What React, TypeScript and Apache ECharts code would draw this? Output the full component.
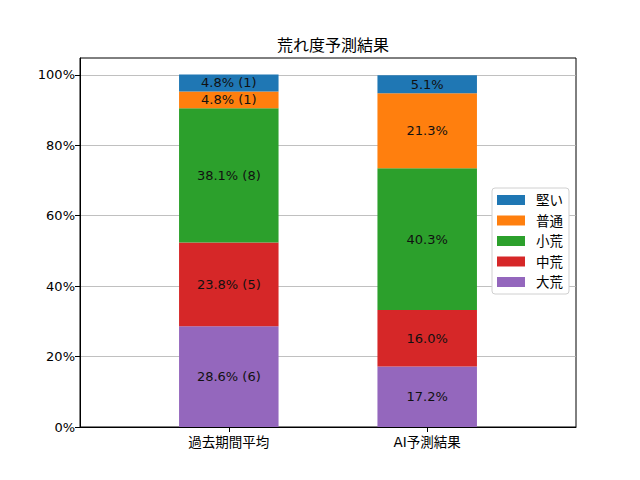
import React, { useEffect, useRef } from "react";
import * as echarts from "echarts";

const categories = ["過去期間平均", "AI予測結果"];
const seriesNames = ["大荒", "中荒", "小荒", "普通", "堅い"];
const colors = ["#9467bd", "#d62728", "#2ca02c", "#ff7f0e", "#1f77b4"];
const pastValues = [28.6, 23.8, 38.1, 4.8, 4.8];
const pastCounts = [6, 5, 8, 1, 1];
const aiValues = [17.2, 16.0, 40.3, 21.3, 5.1];
const yTicks = [0, 20, 40, 60, 80, 100];
const legendOrder = ["堅い", "普通", "小荒", "中荒", "大荒"];

const FONT = "'DejaVu Sans', 'Noto Sans CJK JP', sans-serif";

// padded category slots so bars sit where matplotlib placed them (xlim -0.75..1.75)
const slots = ["", categories[0], "", categories[1], ""];

export default function App() {
  const ref = useRef<HTMLDivElement>(null);
  useEffect(() => {
    document.body.style.margin = "0";
    if (!ref.current) return;
    const chart = echarts.init(ref.current, undefined, { renderer: "svg" });
    const series = seriesNames.map((name, i) => ({
      name,
      type: "bar",
      stack: "total",
      barWidth: 99.5,
      itemStyle: { color: colors[i] },
      data: [null, pastValues[i], null, aiValues[i], null],
      label: {
        show: true,
        position: "inside",
        color: "#111",
        fontSize: 13,
        lineHeight: 14,
        fontFamily: FONT,
        formatter: (p: any) =>
          p.dataIndex === 1
            ? `${pastValues[i].toFixed(1)}% (${pastCounts[i]})`
            : `${aiValues[i].toFixed(1)}%`,
      },
    }));
    chart.setOption({
      animation: false,
      textStyle: { fontFamily: FONT },
      title: {
        text: "荒れ度予測結果",
        left: 328,
        top: 32,
        textAlign: "center",
        textStyle: { fontSize: 16, fontWeight: "normal", color: "#000", fontFamily: FONT },
      },
      grid: {
        left: 80,
        top: 58,
        width: 496,
        height: 369,
        show: true,
        borderColor: "#000",
        borderWidth: 1,
        backgroundColor: "transparent",
      },
      legend: {
        data: legendOrder,
        orient: "vertical",
        left: 492,
        top: 188,
        itemWidth: 28,
        itemHeight: 10,
        itemGap: 6.5,
        icon: "rect",
        padding: [5, 6, 5, 5],
        borderColor: "#d0d0d0",
        borderWidth: 1,
        borderRadius: 3,
        backgroundColor: "#fff",
        textStyle: {
          fontSize: 13.5,
          lineHeight: 14,
          color: "#000",
          fontFamily: FONT,
          padding: [0, 0, 0, 6],
        },
      },
      xAxis: {
        type: "category",
        data: slots,
        boundaryGap: true,
        axisLine: { show: true, lineStyle: { color: "#000", width: 1 } },
        axisTick: {
          show: true,
          alignWithLabel: true,
          interval: (_i: number, v: string) => v !== "",
          length: 5,
          lineStyle: { color: "#000" },
        },
        axisLabel: {
          interval: (_i: number, v: string) => v !== "",
          margin: 8,
          fontSize: 13.5,
          color: "#000",
          fontFamily: FONT,
        },
        splitLine: { show: false },
      },
      yAxis: {
        type: "value",
        min: 0,
        max: 104.8,
        axisLine: { show: true, onZero: false, lineStyle: { color: "#000", width: 1 } },
        axisTick: {
          show: true,
          customValues: yTicks,
          length: 5,
          lineStyle: { color: "#000" },
        },
        axisLabel: {
          customValues: yTicks,
          margin: 5,
          fontSize: 13,
          color: "#000",
          fontFamily: FONT,
          formatter: (v: number) => `${v}%`,
        },
        splitLine: { show: true, lineStyle: { color: "#b0b0b0", width: 0.8 } },
      },
      series,
    });
    return () => chart.dispose();
  }, []);
  return <div ref={ref} style={{ width: 640, height: 480 }} />;
}
